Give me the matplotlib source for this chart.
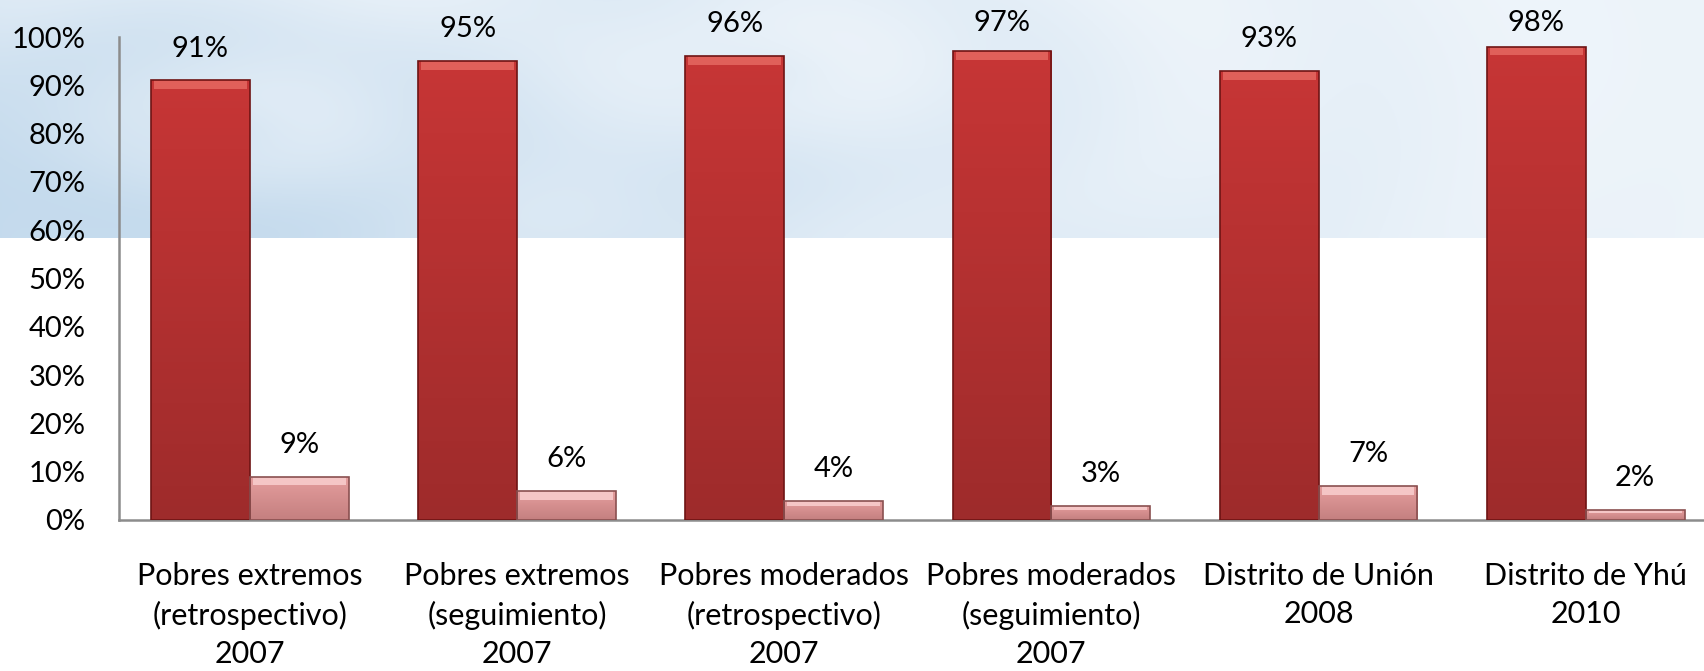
import matplotlib
matplotlib.use('Agg')
import matplotlib.pyplot as plt
import numpy as np

plt.rcParams['font.family'] = ['Lato', 'DejaVu Sans']

categories = ['Pobres extremos\n(retrospectivo)\n2007',
              'Pobres extremos\n(seguimiento)\n2007',
              'Pobres moderados\n(retrospectivo)\n2007',
              'Pobres moderados\n(seguimiento)\n2007',
              'Distrito de Unión\n2008',
              'Distrito de Yhú\n2010']
si = [91, 95, 96, 97, 93, 98]
no = [9, 6, 4, 3, 7, 2]
yticks = [0, 10, 20, 30, 40, 50, 60, 70, 80, 90, 100]

W, H = 1704, 671
fig = plt.figure(figsize=(W / 100, H / 100), dpi=100)

# light watery background band at the top
bg = fig.add_axes([0, 1 - 238 / H, 1, 238 / H], zorder=0)
gx = np.linspace(0, 1, 600)
gy = np.linspace(0, 1, 120)
X, Y = np.meshgrid(gx, gy)
r1 = np.hypot((X - 0.13) * 7, (Y - 0.45) * 2.2)
r2 = np.hypot((X - 0.45) * 6, (Y - 0.7) * 2.0)
shade = 0.3 + 0.6 * X ** 0.8 + 0.3 * Y * (1 - X)
shade += 0.1 * np.sin(5 * r1) * np.exp(-r1 / 2) + 0.08 * np.sin(5 * r2) * np.exp(-r2 / 2)
shade = np.clip(shade, 0, 1)
c0 = np.array([0.68, 0.80, 0.90])
c1 = np.array([0.96, 0.975, 0.99])
img = c0[None, None, :] * (1 - shade[..., None]) + c1[None, None, :] * shade[..., None]
bg.imshow(img, aspect='auto', extent=[0, 1, 0, 1], origin='lower')
bg.axis('off')

left = 119 / W
bottom = 1 - 520 / H
top = 1 - 37 / H
ax = fig.add_axes([left, bottom, 1603 / W, top - bottom], zorder=1)
ax.patch.set_alpha(0)

x = np.arange(len(categories))
w = 0.37


def shaded(rects, c_top, c_bot):
    grad = np.linspace(0, 1, 64)[:, None, None]
    cols = np.array(c_bot)[None, None, :] * (1 - grad) + np.array(c_top)[None, None, :] * grad
    cols = np.repeat(cols, 2, axis=1)
    for r in rects:
        x0, y0 = r.get_x(), r.get_y()
        im = ax.imshow(cols, extent=[x0, x0 + r.get_width(), y0, y0 + r.get_height()],
                       origin='lower', aspect='auto', zorder=3)
        im.set_clip_path(r)


b1 = ax.bar(x - w / 2, si, w, color='#BC302E', edgecolor='#6e1414', linewidth=1.2, zorder=3)
b2 = ax.bar(x + w / 2, no, w, color='#D58A8A', edgecolor='#8a5050', linewidth=1.2, zorder=3)
shaded(b1, (0.78, 0.21, 0.21), (0.62, 0.17, 0.17))
shaded(b2, (0.90, 0.62, 0.62), (0.77, 0.50, 0.50))
for r in list(b1) + list(b2):
    r.set_facecolor('none')
    r.set_zorder(5)

# bevel highlight on the top of each bar
bev1 = [min(1.8, v * 0.3) for v in si]
bev2 = [min(1.8, v * 0.3) for v in no]
ax.bar(x - w / 2, bev1, w * 0.94, bottom=np.array(si) - np.array(bev1),
       color='#E0605A', linewidth=0, zorder=4)
ax.bar(x + w / 2, bev2, w * 0.94, bottom=np.array(no) - np.array(bev2),
       color='#F5C6C6', linewidth=0, zorder=4)

for rect, v in zip(list(b1) + list(b2), si + no):
    ax.text(rect.get_x() + rect.get_width() / 2, min(v + 6.6, 102.9), '%d%%' % v,
            ha='center', va='center', fontsize=21, clip_on=False, zorder=6)

ax.set_xlim(-0.49, 5.51)
ax.set_ylim(0, 100)
ax.set_yticks(yticks)
ax.set_yticklabels(['%d%%' % t for t in yticks], fontsize=21)
ax.set_xticks(x)
ax.set_xticklabels(categories, fontsize=22, linespacing=1.45)
ax.tick_params(axis='y', length=0, pad=24)
ax.tick_params(axis='x', length=0, pad=30)

for s in ['top', 'right']:
    ax.spines[s].set_visible(False)
for s in ['left', 'bottom']:
    ax.spines[s].set_color('#8c8c8c')
    ax.spines[s].set_linewidth(1.8)

fig.savefig('out.png', dpi=100)
